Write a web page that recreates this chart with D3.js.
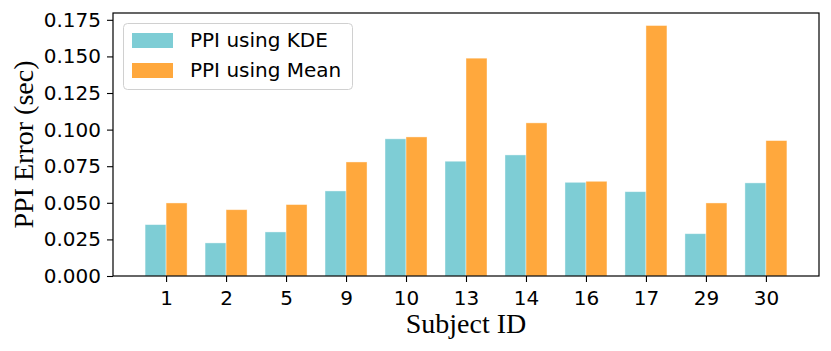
<!DOCTYPE html>
<html>
<head>
<meta charset="utf-8">
<script src="https://cdn.jsdelivr.net/npm/d3@7"></script>
<style>
  body { margin: 0; background: #fff; }
  svg { display: block; }
  .tick text { font-family: "DejaVu Sans", sans-serif; font-size: 20px; fill: #000; }
</style>
</head>
<body>
<div id="chart"></div>
<script>
// data
var subjects = ["1", "2", "5", "9", "10", "13", "14", "16", "17", "29", "30"]
var kdeError = [0.0351, 0.0226, 0.0301, 0.0581, 0.0937, 0.0784, 0.0827, 0.0640, 0.0576, 0.0289, 0.0636]
var meanError = [0.0499, 0.0453, 0.0488, 0.0779, 0.0950, 0.1488, 0.1046, 0.0647, 0.1711, 0.0499, 0.0925]
var yTicks = [0, 0.025, 0.05, 0.075, 0.1, 0.125, 0.15, 0.175]
var seriesNames = ["PPI using KDE", "PPI using Mean"]

var w = 831
var h = 351
var plotL = 113, plotR = 819, plotT = 13, plotB = 276
var barW = 0.35
var colors = ["#7ecdd5", "#ffa83d"]

var svg = d3.select("#chart")
    .append("svg")
    .attr("width", w)
    .attr("height", h)

var x = d3.scaleLinear()
    .domain([-0.885, subjects.length - 1 + 0.885])
    .range([plotL, plotR])

var ymax = d3.max(meanError.concat(kdeError)) * 1.05
var y = d3.scaleLinear()
    .domain([0, ymax])
    .range([plotB, plotT])

// bars
var series = [kdeError, meanError]
series.forEach(function(vals, s) {
    svg.append("g")
        .selectAll("rect")
        .data(vals)
        .enter()
        .append("rect")
        .attr("x", function(d, i) { return x(i + (s === 0 ? -barW : 0)) })
        .attr("width", x(barW) - x(0))
        .attr("y", function(d) { return y(d) })
        .attr("height", function(d) { return y(0) - y(d) })
        .attr("fill", colors[s])
        .attr("stroke", "#fff")
        .attr("stroke-opacity", 0.5)
        .attr("stroke-width", 0.8)
})

// axes
var xAxis = d3.axisBottom(x)
    .tickValues(d3.range(subjects.length))
    .tickFormat(function(i) { return subjects[i] })
    .tickSize(6)
    .tickPadding(9)

svg.append("g")
    .attr("transform", "translate(0," + plotB + ")")
    .call(xAxis)
    .call(function(g) { g.select(".domain").remove() })

var yAxis = d3.axisLeft(y)
    .tickValues(yTicks)
    .tickFormat(d3.format(".3f"))
    .tickSize(6)
    .tickPadding(6)

svg.append("g")
    .attr("transform", "translate(" + plotL + ",0)")
    .call(yAxis)
    .call(function(g) { g.select(".domain").remove() })

svg.selectAll(".tick line").attr("stroke", "#000").attr("stroke-width", 1.1)

// frame
svg.append("rect")
    .attr("x", plotL)
    .attr("y", plotT)
    .attr("width", plotR - plotL)
    .attr("height", plotB - plotT)
    .attr("fill", "none")
    .attr("stroke", "#000")
    .attr("stroke-width", 1.2)

// axis labels
svg.append("text")
    .attr("x", (plotL + plotR) / 2)
    .attr("y", 333)
    .attr("text-anchor", "middle")
    .style("font-family", "'Liberation Serif', 'Times New Roman', serif")
    .style("font-size", "28px")
    .text("Subject ID")

svg.append("text")
    .attr("transform", "translate(33," + (plotT + plotB) / 2 + ") rotate(-90)")
    .attr("text-anchor", "middle")
    .style("font-family", "'Liberation Serif', 'Times New Roman', serif")
    .style("font-size", "28px")
    .text("PPI Error (sec)")

// legend
var legend = svg.append("g")

legend.append("rect")
    .attr("x", 123.5)
    .attr("y", 23.5)
    .attr("width", 229)
    .attr("height", 66)
    .attr("rx", 4)
    .attr("fill", "#fff")
    .attr("fill-opacity", 0.8)
    .attr("stroke", "#d0d0d0")

seriesNames.forEach(function(name, s) {
    legend.append("rect")
        .attr("x", 132)
        .attr("y", 33 + s * 30)
        .attr("width", 41)
        .attr("height", 15)
        .attr("fill", colors[s])
    legend.append("text")
        .attr("x", 190)
        .attr("y", 47 + s * 30)
        .style("font-family", "'DejaVu Sans', sans-serif")
        .style("font-size", "20px")
        .text(name)
})
</script>
</body>
</html>
